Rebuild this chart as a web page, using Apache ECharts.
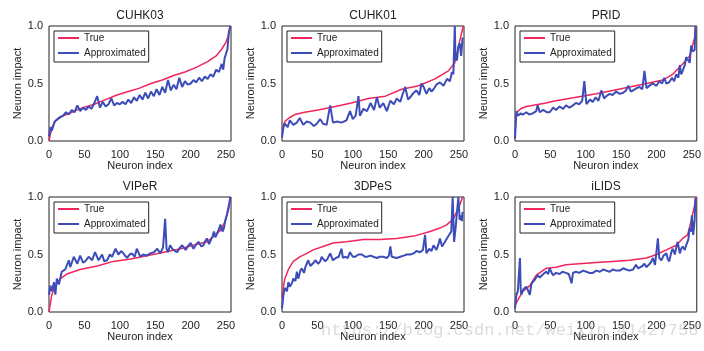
<!DOCTYPE html>
<html>
<head>
<meta charset="utf-8">
<script src="https://cdn.jsdelivr.net/npm/echarts@6/dist/echarts.min.js"></script>
<style>
  html, body { margin: 0; padding: 0; background: #fff; }
  #myChart { width: 704px; height: 351px; }
</style>
</head>
<body>
<div id="myChart"></div>
<script>
// 各数据集的名字
var names = ['CUHK03', 'CUHK01', 'PRID', 'VIPeR', '3DPeS', 'iLIDS'];
var xTicks = [0, 50, 100, 150, 200, 250];
var yTicks = [0.0, 0.5, 1.0];

// [neuron index, impact]
var trueCUHK03 = [[0,0.0],[2,0.06],[5,0.13],[10,0.18],[20,0.22],[32,0.25],[48,0.29],[64,0.32],[80,0.36],[96,0.40],[112,0.43],[128,0.46],[144,0.50],[160,0.53],[176,0.57],[192,0.60],[208,0.64],[224,0.69],[236,0.74],[244,0.80],[250,0.86],[254,0.93],[256,1.0]];
var approxCUHK03 = [[0,0.04],[2,0.12],[4,0.09],[8,0.17],[12,0.19],[16,0.21],[20,0.22],[24,0.25],[28,0.23],[32,0.27],[36,0.25],[40,0.31],[44,0.26],[48,0.29],[52,0.27],[56,0.30],[60,0.28],[64,0.33],[68,0.39],[72,0.29],[76,0.34],[80,0.30],[84,0.32],[88,0.37],[92,0.31],[96,0.33],[100,0.32],[104,0.34],[108,0.32],[112,0.36],[116,0.33],[120,0.38],[124,0.35],[128,0.40],[132,0.36],[136,0.42],[140,0.37],[144,0.43],[148,0.39],[152,0.45],[156,0.40],[160,0.47],[164,0.42],[168,0.53],[172,0.44],[176,0.49],[180,0.45],[184,0.55],[188,0.47],[192,0.52],[196,0.49],[200,0.50],[204,0.53],[208,0.51],[212,0.55],[216,0.52],[220,0.56],[224,0.54],[228,0.58],[232,0.56],[236,0.62],[240,0.60],[244,0.67],[246,0.62],[248,0.72],[252,0.80],[254,0.95],[256,1.0]];

var trueCUHK01 = [[0,0.10],[4,0.17],[10,0.20],[18,0.23],[32,0.25],[51,0.27],[75,0.30],[98,0.33],[122,0.37],[146,0.39],[169,0.45],[193,0.48],[216,0.54],[235,0.61],[244,0.68],[251,0.87],[256,1.0]];
var approxCUHK01 = [[0,0.03],[2,0.12],[4,0.15],[8,0.12],[11,0.18],[16,0.14],[21,0.16],[25,0.20],[30,0.14],[35,0.17],[40,0.16],[45,0.13],[49,0.15],[54,0.19],[58,0.15],[63,0.14],[68,0.31],[72,0.16],[78,0.17],[84,0.16],[91,0.18],[96,0.26],[100,0.19],[104,0.22],[108,0.39],[110,0.22],[115,0.28],[120,0.26],[125,0.33],[130,0.27],[134,0.38],[138,0.29],[143,0.33],[148,0.26],[153,0.35],[158,0.32],[162,0.37],[167,0.34],[170,0.40],[174,0.47],[178,0.36],[181,0.38],[186,0.42],[190,0.44],[194,0.40],[197,0.50],[200,0.47],[204,0.41],[208,0.46],[211,0.43],[214,0.45],[218,0.49],[223,0.51],[228,0.48],[233,0.54],[237,0.52],[240,0.60],[242,0.58],[244,1.0],[245,0.72],[247,0.70],[249,0.82],[251,0.85],[253,0.74],[255,0.90]];

var truePRID = [[0,0.20],[3,0.25],[8,0.28],[16,0.30],[44,0.33],[54,0.345],[72,0.365],[91,0.385],[115,0.41],[138,0.44],[162,0.47],[186,0.50],[209,0.53],[223,0.58],[237,0.67],[247,0.74],[254,0.90],[256,1.0]];
var approxPRID = [[0,0.02],[2,0.26],[4,0.22],[8,0.24],[11,0.23],[16,0.25],[20,0.23],[25,0.24],[30,0.26],[32,0.31],[35,0.25],[40,0.27],[45,0.25],[49,0.25],[54,0.29],[58,0.27],[63,0.30],[68,0.28],[72,0.31],[77,0.29],[82,0.31],[86,0.33],[91,0.32],[95,0.35],[98,0.52],[101,0.32],[106,0.36],[110,0.34],[114,0.38],[118,0.35],[122,0.44],[126,0.37],[129,0.39],[134,0.41],[138,0.40],[143,0.43],[148,0.41],[153,0.42],[157,0.44],[160,0.48],[164,0.43],[167,0.44],[172,0.46],[176,0.47],[180,0.45],[183,0.61],[186,0.46],[188,0.47],[192,0.49],[195,0.50],[200,0.48],[204,0.52],[208,0.50],[211,0.55],[214,0.50],[218,0.51],[222,0.55],[225,0.52],[228,0.58],[231,0.55],[233,0.66],[235,0.58],[237,0.61],[240,0.66],[242,0.73],[245,0.70],[247,0.68],[249,0.83],[251,0.78],[254,0.79],[255,1.0]];

var trueVIPeR = [[0,0.0],[4,0.15],[9,0.23],[16,0.29],[25,0.33],[44,0.37],[68,0.40],[91,0.44],[115,0.46],[138,0.49],[162,0.52],[186,0.55],[209,0.59],[223,0.61],[233,0.66],[242,0.71],[249,0.79],[254,0.90],[256,1.0]];
var approxVIPeR = [[0,0.15],[2,0.23],[4,0.18],[7,0.26],[9,0.15],[11,0.29],[14,0.24],[18,0.35],[23,0.37],[28,0.45],[30,0.39],[35,0.48],[40,0.42],[44,0.49],[48,0.43],[51,0.44],[56,0.48],[61,0.45],[65,0.52],[70,0.45],[75,0.50],[78,0.44],[82,0.45],[86,0.50],[89,0.48],[94,0.55],[98,0.50],[102,0.53],[105,0.51],[110,0.47],[114,0.50],[117,0.51],[121,0.48],[124,0.55],[129,0.48],[133,0.50],[138,0.49],[143,0.51],[148,0.52],[153,0.55],[157,0.51],[161,0.56],[164,0.81],[166,0.55],[168,0.52],[171,0.58],[174,0.55],[178,0.53],[181,0.52],[185,0.56],[188,0.58],[193,0.54],[196,0.57],[200,0.60],[204,0.55],[208,0.59],[211,0.61],[215,0.57],[218,0.58],[221,0.62],[223,0.64],[226,0.59],[228,0.60],[231,0.66],[233,0.70],[235,0.65],[237,0.64],[240,0.72],[242,0.76],[245,0.70],[247,0.73],[249,0.80],[251,0.84],[253,0.85],[255,0.96],[256,1.0]];

var true3DPeS = [[0,0.12],[2,0.22],[4,0.29],[9,0.37],[16,0.44],[25,0.48],[35,0.51],[44,0.54],[58,0.57],[72,0.60],[91,0.61],[115,0.63],[138,0.63],[162,0.64],[186,0.66],[209,0.70],[223,0.73],[233,0.76],[242,0.81],[251,0.93],[255,1.0]];
var approx3DPeS = [[0,0.03],[2,0.15],[4,0.21],[7,0.18],[9,0.26],[11,0.22],[14,0.25],[16,0.29],[19,0.27],[21,0.35],[23,0.29],[26,0.36],[28,0.38],[31,0.34],[33,0.39],[37,0.45],[40,0.40],[42,0.41],[45,0.43],[47,0.45],[51,0.42],[54,0.44],[56,0.48],[61,0.44],[64,0.46],[68,0.51],[72,0.45],[76,0.47],[80,0.48],[84,0.55],[86,0.47],[89,0.48],[93,0.47],[96,0.52],[100,0.48],[103,0.48],[108,0.50],[113,0.50],[117,0.48],[120,0.48],[125,0.49],[129,0.48],[134,0.47],[138,0.48],[143,0.48],[148,0.47],[151,0.49],[153,0.57],[155,0.48],[157,0.47],[162,0.47],[167,0.48],[172,0.49],[176,0.50],[181,0.50],[186,0.51],[190,0.53],[195,0.52],[199,0.54],[202,0.67],[204,0.51],[208,0.55],[211,0.53],[214,0.58],[218,0.54],[221,0.59],[223,0.64],[226,0.57],[228,0.58],[231,0.62],[233,0.61],[235,0.66],[237,0.67],[239,0.70],[241,1.0],[243,0.61],[245,0.72],[247,0.73],[249,1.0],[251,0.80],[253,0.84],[254,0.79],[255,0.87]];

var trueiLIDS = [[0,0.06],[11,0.18],[21,0.23],[30,0.32],[44,0.38],[58,0.39],[72,0.41],[91,0.42],[115,0.43],[138,0.44],[162,0.45],[186,0.47],[200,0.50],[214,0.54],[228,0.58],[237,0.64],[244,0.67],[249,0.79],[254,0.93],[256,1.0]];
var approxiLIDS = [[0,0.03],[2,0.15],[4,0.18],[6,0.17],[7,0.47],[8,0.20],[9,0.15],[12,0.20],[14,0.19],[16,0.22],[18,0.23],[21,0.15],[23,0.24],[25,0.26],[28,0.28],[32,0.32],[35,0.30],[37,0.29],[40,0.33],[44,0.35],[47,0.33],[49,0.38],[52,0.34],[54,0.32],[58,0.34],[63,0.33],[67,0.35],[72,0.34],[76,0.33],[80,0.25],[82,0.34],[86,0.35],[91,0.34],[96,0.36],[101,0.35],[105,0.34],[110,0.34],[115,0.36],[120,0.35],[125,0.37],[129,0.36],[134,0.35],[138,0.37],[143,0.36],[148,0.36],[153,0.38],[157,0.37],[162,0.36],[167,0.37],[171,0.41],[174,0.38],[176,0.37],[180,0.40],[183,0.42],[186,0.39],[188,0.38],[192,0.43],[195,0.47],[198,0.41],[200,0.42],[202,0.64],[204,0.47],[207,0.45],[210,0.49],[214,0.51],[216,0.46],[218,0.44],[221,0.52],[223,0.55],[226,0.50],[228,0.56],[230,0.61],[233,0.51],[235,0.55],[237,0.57],[240,0.54],[242,0.58],[245,0.63],[247,0.73],[249,0.70],[250,0.84],[252,0.67],[254,0.80],[255,0.99]];

var trueSets = [trueCUHK03, trueCUHK01, truePRID, trueVIPeR, true3DPeS, trueiLIDS];
var approxSets = [approxCUHK03, approxCUHK01, approxPRID, approxVIPeR, approx3DPeS, approxiLIDS];

var gridLefts = [49, 282, 515];
var gridTops = [26, 197];
var gridW = 182, gridH = 115;
var fontFam = 'Liberation Sans, Arial, sans-serif';
var txtColor = '#222';
var redColor = '#f2245c';
var blueColor = '#3c4cb8';

var grids = [], xAxes = [], yAxes = [], titles = [], legends = [], series = [];

for (var i = 0; i < names.length; i++) {
  var col = i % 3, row = Math.floor(i / 3);
  var L = gridLefts[col], T = gridTops[row];
  grids.push({
    left: L, top: T, width: gridW, height: gridH,
    show: true, borderColor: '#222', borderWidth: 1, backgroundColor: '#fff'
  });
  xAxes.push({
    type: 'value', gridIndex: i, min: 0, max: 257, interval: 50,
    name: 'Neuron index', nameLocation: 'middle', nameGap: 19,
    nameTextStyle: { fontSize: 11, color: txtColor, fontFamily: fontFam },
    axisLine: { show: false }, axisTick: { show: false }, splitLine: { show: false },
    axisLabel: {
      margin: 8, fontSize: 11, color: txtColor, fontFamily: fontFam, showMaxLabel: false,
      formatter: function (v) { return xTicks.indexOf(v) >= 0 ? String(v) : ''; }
    }
  });
  yAxes.push({
    type: 'value', gridIndex: i, min: 0, max: 1, interval: 0.5,
    name: 'Neuron impact', nameLocation: 'middle', nameGap: 25,
    nameTextStyle: { fontSize: 11, color: txtColor, fontFamily: fontFam },
    axisLine: { show: false }, axisTick: { show: false }, splitLine: { show: false },
    axisLabel: {
      margin: 6, fontSize: 11, color: txtColor, fontFamily: fontFam,
      formatter: function (v) { return v.toFixed(1); }
    }
  });
  titles.push({
    text: names[i], left: L + gridW / 2, top: T - 16, textAlign: 'center', padding: 0,
    textStyle: { fontSize: 12, fontWeight: 'normal', color: txtColor, fontFamily: fontFam }
  });
  legends.push({
    data: ['True', 'Approximated'], orient: 'vertical',
    left: L + 5, top: T + 5, padding: [1, 3, 3, 4], itemGap: 3,
    icon: 'rect', itemWidth: 21, itemHeight: 2,
    borderColor: '#222', borderWidth: 1, backgroundColor: '#fff',
    selectedMode: false,
    textStyle: { fontSize: 10, lineHeight: 12, color: txtColor, fontFamily: fontFam }
  });
  series.push({
    name: 'True', type: 'line', xAxisIndex: i, yAxisIndex: i,
    data: trueSets[i], showSymbol: false, symbol: 'none', smooth: false,
    lineStyle: { color: redColor, width: 1.5 }, itemStyle: { color: redColor },
    animation: false
  });
  series.push({
    name: 'Approximated', type: 'line', xAxisIndex: i, yAxisIndex: i,
    data: approxSets[i], showSymbol: false, symbol: 'none', smooth: false,
    lineStyle: { color: blueColor, width: 2 }, itemStyle: { color: blueColor },
    animation: false
  });
}

var myChart = echarts.init(document.getElementById('myChart'));
myChart.setOption({
  backgroundColor: '#fff',
  animation: false,
  title: titles,
  legend: legends,
  grid: grids,
  xAxis: xAxes,
  yAxis: yAxes,
  series: series,
  graphic: [{
    type: 'text', left: 321, top: 322, z: 100, silent: true,
    style: {
      text: 'https://blog.csdn.net/weixin_41427758',
      font: '17px "Liberation Mono", monospace',
      fill: 'rgba(185,185,185,0.5)'
    }
  }]
});
</script>
</body>
</html>
